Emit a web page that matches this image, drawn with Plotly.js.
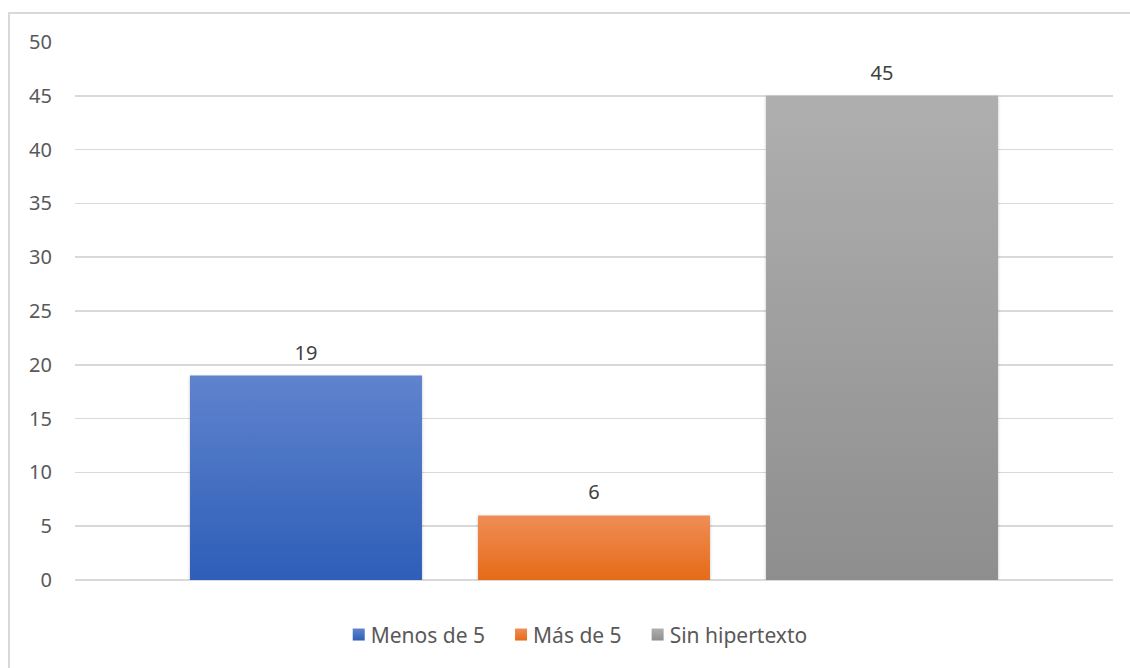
<!DOCTYPE html>
<html>
<head>
<meta charset="utf-8">
<script src="https://cdn.plot.ly/plotly-3.0.1.min.js"></script>
<style>
  html, body { margin: 0; padding: 0; background: #fff; }
  #chart { width: 1130px; height: 668px; }
</style>
</head>
<body>
<div id="chart"></div>
<script>
// ---- data ----
const categories = [""];
const seriesNames = ["Menos de 5", "Más de 5", "Sin hipertexto"];
const seriesValues = [[19], [6], [45]];
const yTickValues = [0, 5, 10, 15, 20, 25, 30, 35, 40, 45, 50];

// ---- style ----
const solidColors = ["#4472C4", "#ED7D31", "#A5A5A5"];
const gradStops = [
  ["#5F83CD", "#2E5EB8"],
  ["#F08D56", "#E56B17"],
  ["#AFAFAF", "#8E8E8E"]
];
const fontFam = "'Noto Sans', 'Open Sans', sans-serif";
const M = { l: 75, r: 17, t: 42, b: 88 };
const legendCenterFrac = 0.4865;

const traces = seriesNames.map((name, i) => ({
  type: "bar",
  name: name,
  x: categories,
  y: seriesValues[i],
  marker: { color: solidColors[i], line: { width: 0 } },
  texttemplate: "%{y}",
  textposition: "outside",
  textfont: { family: fontFam, size: 20, color: "#404040" },
  cliponaxis: false,
  hoverinfo: "skip"
}));

const layout = {
  width: 1130,
  height: 668,
  margin: { l: M.l, r: M.r, t: M.t, b: M.b, pad: 0 },
  paper_bgcolor: "#ffffff",
  plot_bgcolor: "#ffffff",
  font: { family: fontFam, size: 20, color: "#595959" },
  barmode: "group",
  bargap: 0.1676,
  bargroupgap: 0.1946,
  showlegend: true,
  legend: {
    orientation: "h",
    x: legendCenterFrac, xanchor: "center",
    y: -0.102, yanchor: "middle",
    font: { family: fontFam, size: 21, color: "#595959" },
    itemclick: false, itemdoubleclick: false,
    traceorder: "normal"
  },
  xaxis: {
    type: "category",
    range: [-0.5, 0.5],
    showticklabels: false,
    showgrid: false,
    zeroline: false,
    showline: false,
    ticks: ""
  },
  yaxis: {
    range: [0, 50],
    tickvals: yTickValues,
    ticktext: yTickValues.map(String),
    showgrid: true,
    gridcolor: "#D9D9D9",
    gridwidth: 1.5,
    zeroline: true,
    zerolinecolor: "#D9D9D9",
    zerolinewidth: 1.5,
    showline: false,
    ticks: "",
    ticklabelstandoff: 22,
    tickfont: { family: fontFam, size: 20, color: "#595959" }
  },
  shapes: [{
    type: "rect",
    xref: "paper", yref: "paper",
    x0: (9 - 75) / 1038, x1: (1140 - 75) / 1038,
    y0: -(680 - 580) / 538, y1: (580 - 13) / 538,
    line: { color: "#D9D9D9", width: 2 },
    fillcolor: "rgba(0,0,0,0)",
    layer: "below"
  }],
  hovermode: false
};

function parseTranslate(s) {
  const m = /translate\(\s*([-\d.e]+)[ ,]\s*([-\d.e]+)\s*\)/.exec(s || "");
  return m ? [parseFloat(m[1]), parseFloat(m[2])] : [0, 0];
}

Plotly.newPlot("chart", traces, layout, { displayModeBar: false, staticPlot: true }).then(gd => {
  const svg = gd.querySelector("svg.main-svg");
  const ns = "http://www.w3.org/2000/svg";
  let defs = svg.querySelector("defs");
  if (!defs) { defs = document.createElementNS(ns, "defs"); svg.insertBefore(defs, svg.firstChild); }
  gradStops.forEach((st, i) => {
    const lg = document.createElementNS(ns, "linearGradient");
    lg.setAttribute("id", "bargrad" + i);
    lg.setAttribute("x1", "0"); lg.setAttribute("y1", "0");
    lg.setAttribute("x2", "0"); lg.setAttribute("y2", "1");
    const s0 = document.createElementNS(ns, "stop");
    s0.setAttribute("offset", "0"); s0.setAttribute("stop-color", st[0]);
    const s1 = document.createElementNS(ns, "stop");
    s1.setAttribute("offset", "1"); s1.setAttribute("stop-color", st[1]);
    lg.appendChild(s0); lg.appendChild(s1);
    defs.appendChild(lg);
  });
  const flt = document.createElementNS(ns, "filter");
  flt.setAttribute("id", "barshadow");
  flt.setAttribute("x", "-5%"); flt.setAttribute("y", "-5%");
  flt.setAttribute("width", "110%"); flt.setAttribute("height", "110%");
  flt.innerHTML = '<feDropShadow dx="0" dy="1" stdDeviation="1.5" flood-color="#000" flood-opacity="0.25"/>';
  defs.appendChild(flt);

  gd.querySelectorAll(".barlayer .trace").forEach((tr, i) => {
    tr.querySelectorAll("path").forEach(p => {
      p.style.fill = "url(#bargrad" + i + ")";
      p.setAttribute("filter", "url(#barshadow)");
    });
    // lift the value labels a little higher above the bars
    tr.querySelectorAll("text").forEach(t => {
      const tf = t.getAttribute("transform") || "";
      t.setAttribute("transform", "translate(0,-7) " + tf);
    });
  });

  // legend: tighter symbol-text gap, wider item spacing, centered
  const items = Array.from(gd.querySelectorAll(".legend .traces"));
  let x = parseTranslate(items[0].getAttribute("transform"))[0];
  let lastEnd = 0, firstStart = x + 14;
  items.forEach((g, i) => {
    g.querySelectorAll(".legendpoints path").forEach(p => {
      p.style.fill = "url(#bargrad" + i + ")";
    });
    const y = parseTranslate(g.getAttribute("transform"))[1];
    const t = g.querySelector("text.legendtext");
    t.setAttribute("x", 32);
    const w = t.getComputedTextLength();
    g.setAttribute("transform", "translate(" + x + "," + y + ")");
    lastEnd = x + 32 + w;
    x += w + 48;
  });
  const legendG = gd.querySelector("g.legend");
  const [lx, ly] = parseTranslate(legendG.getAttribute("transform"));
  const target = M.l + legendCenterFrac * (1130 - M.l - M.r);
  const curCenter = lx + (firstStart + lastEnd) / 2;
  legendG.setAttribute("transform", "translate(" + (lx + target - curCenter) + "," + ly + ")");
  const bg = legendG.querySelector("rect.bg");
  if (bg) bg.setAttribute("width", Math.max(parseFloat(bg.getAttribute("width")), lastEnd + 20));
  legendG.querySelectorAll("clipPath rect").forEach(r => r.setAttribute("width", lastEnd + 40));
  const sb = legendG.querySelector(".scrollbox");
  if (sb) sb.removeAttribute("clip-path");
});
</script>
</body>
</html>
